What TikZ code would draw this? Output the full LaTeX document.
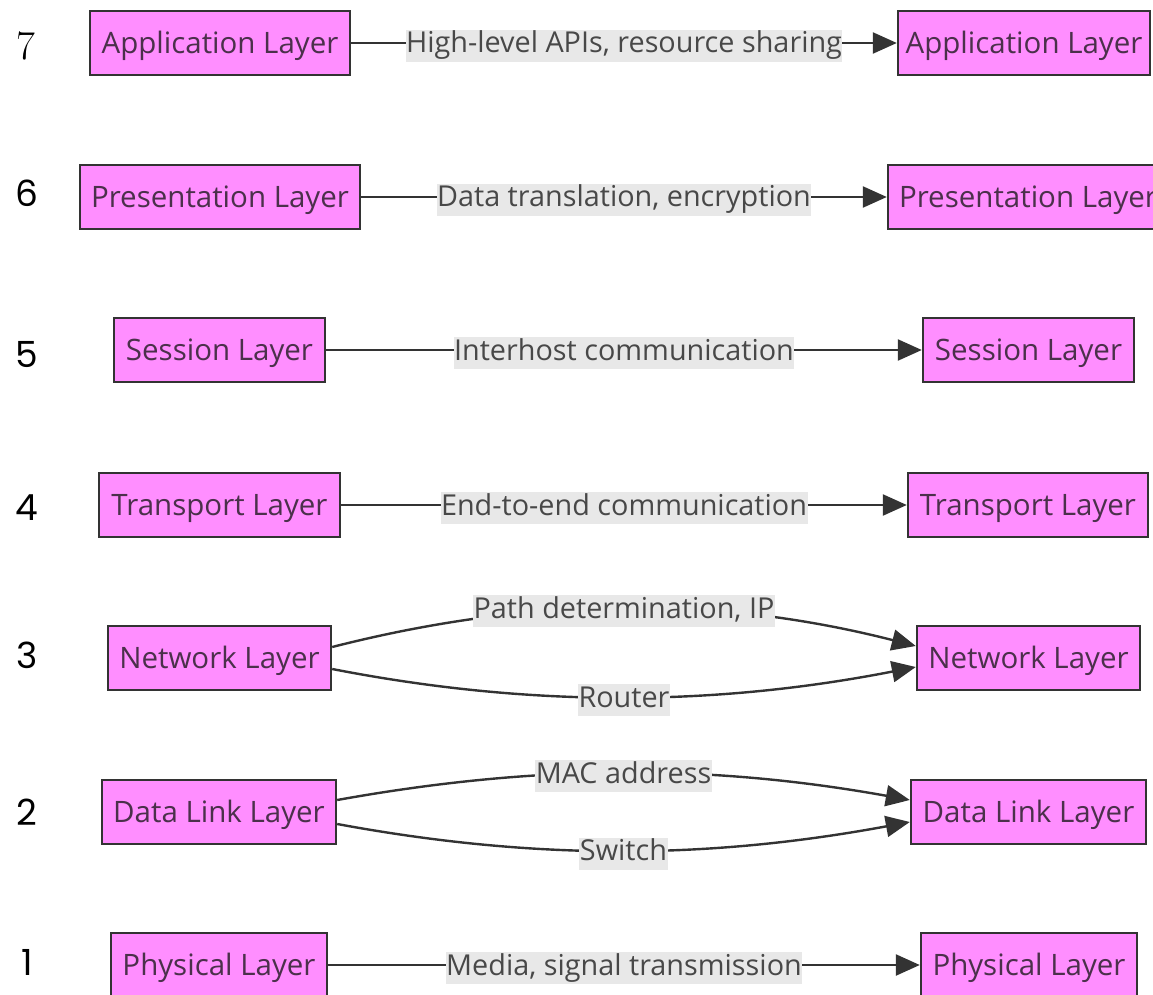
\documentclass[tikz,border=0pt]{standalone}
\usepackage{fontspec}
\usetikzlibrary{arrows.meta}
\newfontfamily\boxfont{Open Sans}
\newfontfamily\numfont{Poppins}
\definecolor{boxpink}{HTML}{FF8EFF}
\definecolor{edgecol}{HTML}{333333}
\definecolor{boxtext}{HTML}{4B304B}
\definecolor{lbltext}{HTML}{484848}
\definecolor{lblbg}{HTML}{E8E8E8}
\begin{document}
\begin{tikzpicture}[x=1pt,y=-1pt,
  layerbox/.style={draw=edgecol,fill=boxpink,line width=2.4pt,minimum height=64pt,
    inner sep=0pt,text=boxtext,text height=21pt,text depth=0pt,
    font=\boxfont\fontsize{29.5}{34}\selectfont},
  lbl/.style={fill=lblbg,text=lbltext,inner xsep=0.5pt,inner ysep=0pt,minimum height=32pt,
    text height=21pt,text depth=7pt,yshift=-3pt,
    font=\boxfont\fontsize{28.8}{34}\selectfont,pos=0.5},
  arr/.style={draw=edgecol,line width=2.4pt,-{Triangle[length=24pt,width=21pt]}},
  numlbl/.style={inner sep=0pt,font=\numfont\fontsize{36}{40}\selectfont,text=black}]
\useasboundingbox (0,0) rectangle (1153,995);
% numbers
\node[numlbl,font=\fontsize{41}{44}\selectfont] (n7) at (26,46) {7};
\node[numlbl] (n6) at (27,193) {6};
\node[numlbl] (n5) at (27,355) {5};
\node[numlbl] (n4) at (27,508) {4};
\node[numlbl] (n3) at (27,655) {3};
\node[numlbl] (n2) at (27,812) {2};
\node[numlbl] (n1) at (27,962) {1};
% boxes
\node[layerbox,minimum width=260pt] (L7) at (220,43) {Application Layer};
\node[layerbox,minimum width=252pt] (R7) at (1024,43) {Application Layer};
\node[layerbox,minimum width=280pt] (L6) at (220,197) {Presentation Layer};
\node[layerbox,minimum width=280pt] (R6) at (1028,197) {Presentation Layer};
\node[layerbox,minimum width=211pt] (L5) at (219.5,350) {Session Layer};
\node[layerbox,minimum width=211pt] (R5) at (1028.5,350) {Session Layer};
\node[layerbox,minimum width=241pt] (L4) at (219.5,505) {Transport Layer};
\node[layerbox,minimum width=240pt] (R4) at (1028,505) {Transport Layer};
\node[layerbox,minimum width=223pt] (L3) at (219.5,658) {Network Layer};
\node[layerbox,minimum width=223pt] (R3) at (1028.5,658) {Network Layer};
\node[layerbox,minimum width=234pt] (L2) at (219,812) {Data Link Layer};
\node[layerbox,minimum width=235pt] (R2) at (1028.5,812) {Data Link Layer};
\node[layerbox,minimum width=216pt] (L1) at (219,965) {Physical Layer};
\node[layerbox,minimum width=216pt] (R1) at (1029,965) {Physical Layer};
% edges
\draw[arr] (L7) -- node[lbl]{High-level APIs, resource sharing} (R7);
\draw[arr] (L6) -- node[lbl]{Data translation, encryption} (R6);
\draw[arr] (L5) -- node[lbl]{Interhost communication} (R5);
\draw[arr] (L4) -- node[lbl]{End-to-end communication} (R4);
\draw[arr] ([yshift=11pt]L3.east) .. controls +(200,-51) and +(-200,-51) .. node[lbl]{Path determination, IP} ([yshift=12pt]R3.west);
\draw[arr] ([yshift=-11pt]L3.east) .. controls +(200,39) and +(-200,39) .. node[lbl]{Router} ([yshift=-9pt]R3.west);
\draw[arr] ([yshift=12pt]L2.east) .. controls +(200,-36) and +(-200,-36) .. node[lbl]{MAC address} ([yshift=12pt]R2.west);
\draw[arr] ([yshift=-12pt]L2.east) .. controls +(200,37) and +(-200,37) .. node[lbl]{Switch} ([yshift=-10pt]R2.west);
\draw[arr] (L1) -- node[lbl]{Media, signal transmission} (R1);
\end{tikzpicture}
\end{document}
